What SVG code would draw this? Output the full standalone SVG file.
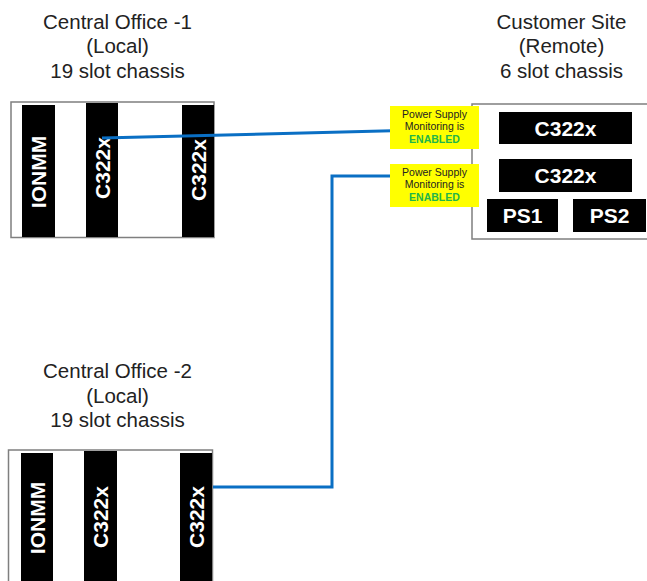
<svg xmlns="http://www.w3.org/2000/svg" width="647" height="581" viewBox="0 0 647 581">
<style>
.title{font-family:"Liberation Sans",Arial,sans-serif;font-size:20.5px;fill:#222;text-anchor:middle}
.chassis{fill:#fff;stroke:#7f7f7f;stroke-width:1.5}
.slot{fill:#000}
.lbl{font-family:"Liberation Sans",Arial,sans-serif;font-size:21px;font-weight:bold;fill:#fff;text-anchor:middle}
.note{fill:#ffff00}
.nt{font-family:"Liberation Sans",Arial,sans-serif;font-size:10.5px;fill:#222;text-anchor:middle}
.en{font-weight:bold;fill:#22b54a}
.wire{fill:none;stroke:#0a6fc4;stroke-width:3}
</style>
<rect width="647" height="581" fill="#fff"/>

<g id="co1">
<text class="title" x="117.5" y="28.5">Central Office -1</text>
<text class="title" x="117.5" y="53">(Local)</text>
<text class="title" x="117.5" y="77.5">19 slot chassis</text>
<rect class="chassis" x="11" y="102" width="203" height="135.5"/>
<rect class="slot" x="22" y="105" width="33" height="132"/>
<rect class="slot" x="86" y="103" width="32" height="134"/>
<rect class="slot" x="182" y="105" width="32" height="132"/>
<text class="lbl" transform="translate(45.5,172) rotate(-90)">IONMM</text>
<text class="lbl" transform="translate(109.5,168) rotate(-90)">C322x</text>
<text class="lbl" transform="translate(205.5,170) rotate(-90)">C322x</text>
</g>

<g id="co2">
<text class="title" x="117.5" y="378">Central Office -2</text>
<text class="title" x="117.5" y="402.5">(Local)</text>
<text class="title" x="117.5" y="427">19 slot chassis</text>
<rect class="chassis" x="8.5" y="450" width="204" height="140"/>
<rect class="slot" x="21" y="453" width="32" height="130"/>
<rect class="slot" x="84" y="451" width="33" height="132"/>
<rect class="slot" x="180" y="453" width="32" height="130"/>
<text class="lbl" transform="translate(44.5,518) rotate(-90)">IONMM</text>
<text class="lbl" transform="translate(108,517) rotate(-90)">C322x</text>
<text class="lbl" transform="translate(203.5,517) rotate(-90)">C322x</text>
</g>

<g id="connectors">
<path class="wire" d="M102,138 L500,128"/>
<path class="wire" d="M213,487 L332,487 L332,176 L510,176"/>
</g>

<g id="customer">
<text class="title" x="561.5" y="28.5">Customer Site</text>
<text class="title" x="561.5" y="53">(Remote)</text>
<text class="title" x="561.5" y="77.5">6 slot chassis</text>
<rect class="chassis" x="472" y="104" width="185" height="135"/>
<rect class="slot" x="499" y="112" width="133" height="32"/>
<rect class="slot" x="499" y="159" width="133" height="33"/>
<rect class="slot" x="487" y="199" width="71" height="33"/>
<rect class="slot" x="573" y="199" width="73" height="33"/>
<text class="lbl" x="565.5" y="135.5">C322x</text>
<text class="lbl" x="565.5" y="183">C322x</text>
<text class="lbl" x="522.5" y="223">PS1</text>
<text class="lbl" x="609.5" y="223">PS2</text>
</g>

<g id="note1">
<rect class="note" x="390" y="106" width="89" height="43"/>
<text class="nt" x="434.5" y="118">Power Supply</text>
<text class="nt" x="434.5" y="130">Monitoring is</text>
<text class="nt en" x="434.5" y="142.5">ENABLED</text>
</g>

<g id="note2">
<rect class="note" x="390" y="164" width="89" height="43"/>
<text class="nt" x="434.5" y="176">Power Supply</text>
<text class="nt" x="434.5" y="188">Monitoring is</text>
<text class="nt en" x="434.5" y="200.5">ENABLED</text>
</g>
</svg>
